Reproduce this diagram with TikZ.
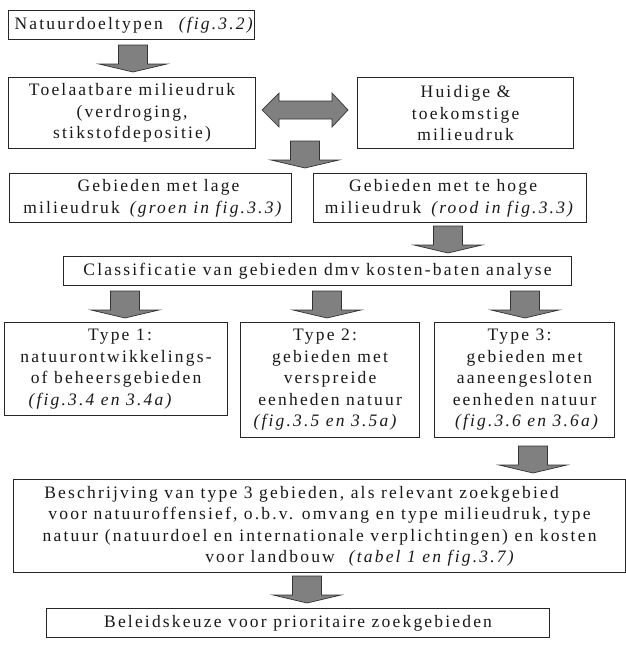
\documentclass[tikz,border=0pt]{standalone}
\usepackage{fontspec}
\setmainfont{Liberation Serif}[LetterSpace=12.5]
\begin{document}
\begin{tikzpicture}[x=1pt,y=-1pt,
  box/.style={draw=black!85, line width=1.1pt, inner sep=0pt, align=center,
    anchor=north west, font=\fontsize{17.5}{21.5}\selectfont, text=black!90},
  arrowshape/.style={fill=black!50, draw=black!80, line width=0.7pt, line join=miter},
  pics/darrow/.style={code={
    \path[arrowshape] (0,0) -- (-34,-8) -- (-14.5,-8) -- (-14.5,-27)
      -- (14.5,-27) -- (14.5,-8) -- (34,-8) -- cycle;}}
]
\fill[white] (0,0) rectangle (626,662);
\useasboundingbox (0,0) rectangle (626,662);

% boxes
\node[box, minimum width=245pt, minimum height=29pt] (b1) at (8,10)
  {\hspace*{6pt}Natuurdoeltypen\hspace{16pt}\textit{(fig.3.2)}};
\node[box, minimum width=247pt, minimum height=71pt] (b2) at (8,77)
  {Toelaatbare milieudruk\\(verdroging,\\stikstofdepositie)};
\node[box, minimum width=216pt, minimum height=71pt] (b3) at (357,77)
  {Huidige \&\\toekomstige\\milieudruk};
\node[box, minimum width=282pt, minimum height=49pt] (b4) at (9,173)
  {\hspace*{16pt}Gebieden met lage\\\hspace*{6pt}milieudruk\hspace{10pt}\textit{(groen in fig.3.3)}};
\node[box, minimum width=273pt, minimum height=49pt] (b5) at (313,173)
  {Gebieden met te hoge\hspace*{14pt}\\milieudruk\hspace{10pt}\textit{(rood in fig.3.3)}};
\node[box, minimum width=508pt, minimum height=29pt] (b6) at (63,256)
  {Classificatie van gebieden dmv kosten-baten analyse};
\node[box, minimum width=223pt, minimum height=93pt] (b7) at (4,322)
  {\hspace*{8pt}Type 1:\\natuurontwikkelings-\hspace*{20pt}\\of beheersgebieden\hspace*{14pt}\\\textit{(fig.3.4 en 3.4a)}\hspace*{30pt}};
\node[box, minimum width=179pt, minimum height=115pt] (b8) at (240,322)
  {Type 2:\hspace*{10pt}\\gebieden met\hspace*{8pt}\\verspreide\hspace*{6pt}\\eenheden natuur\hspace*{18pt}\\\textit{(fig.3.5 en 3.5a)}\hspace*{8pt}};
\node[box, minimum width=180pt, minimum height=115pt] (b9) at (434,322)
  {Type 3:\hspace*{10pt}\\gebieden met\\aaneengesloten\\eenheden natuur\hspace*{6pt}\\\hspace*{6pt}\textit{(fig.3.6 en 3.6a)}};
\node[box, minimum width=612pt, minimum height=93pt] (b10) at (13,479)
  {Beschrijving van type 3 gebieden, als relevant zoekgebied\hspace*{36pt}\\
   voor natuuroffensief, o.b.v. omvang en type milieudruk, type\hspace*{36pt}\\
   natuur (natuurdoel en internationale verplichtingen) en kosten\hspace*{24pt}\\
   \hspace*{82pt}voor landbouw\hspace{14pt}\textit{(tabel 1 en fig.3.7)}};
\node[box, minimum width=503pt, minimum height=29pt] (b11) at (46,608)
  {Beleidskeuze voor prioritaire zoekgebieden};

% double arrow between b2 and b3
\path[arrowshape] (262,110) -- (279,93) -- (279,101) -- (332,101) -- (332,93)
  -- (348,110) -- (332,127) -- (332,119) -- (279,119) -- (279,127) -- cycle;

% block arrows
\pic (a1) at (133,72) {darrow};
\pic (a2) at (305,168) {darrow};
\pic (a3) at (448,253) {darrow};
\pic (a4) at (125,318) {darrow};
\pic (a5) at (327,318) {darrow};
\pic (a6) at (525,318) {darrow};
\pic (a7) at (533,473) {darrow};
\pic (a8) at (307,603) {darrow};
\end{tikzpicture}
\end{document}
